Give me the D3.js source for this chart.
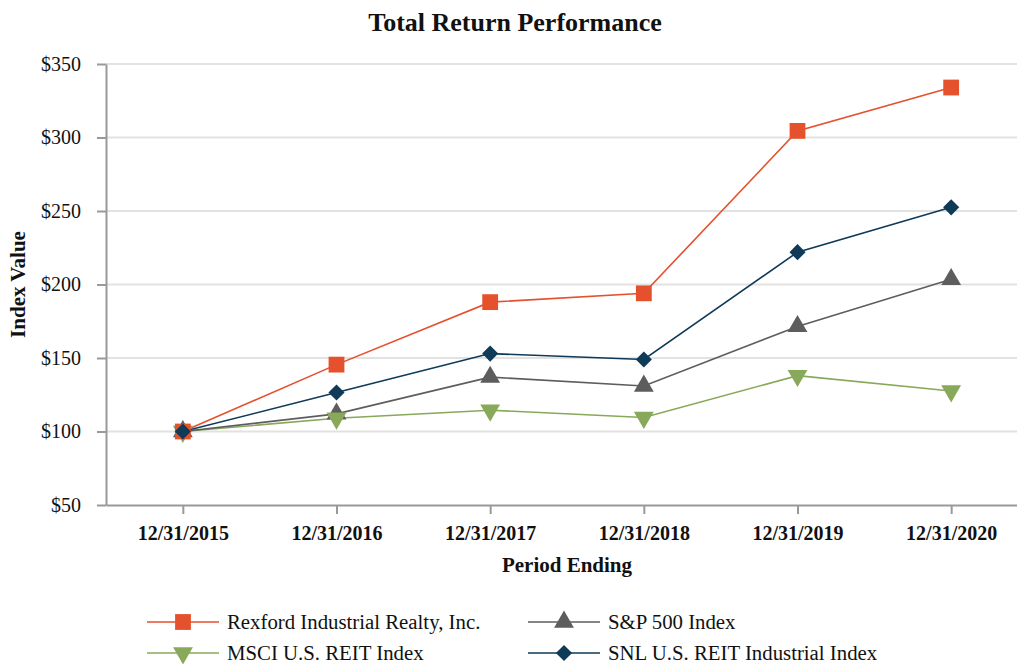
<!DOCTYPE html>
<html>
<head>
<meta charset="utf-8">
<style>
body { margin: 0; background: #fff; }
text { font-family: "Liberation Serif", "Times New Roman", serif; fill: #111; }
</style>
</head>
<body>
<script src="https://d3js.org/d3.v7.min.js"></script>
<script>

var width = 1017,
    height = 664;

var periods = ["12/31/2015", "12/31/2016", "12/31/2017", "12/31/2018", "12/31/2019", "12/31/2020"];
var rexford = [100, 145.5, 188, 194, 304.5, 334];
var sp500 = [100, 112, 137, 131, 171.5, 203.5];
var msci = [100, 109, 114.5, 109.5, 138, 127.5];
var snl = [100, 126.5, 153, 149, 222, 252.5];
var yTicks = [50, 100, 150, 200, 250, 300, 350];

var series = [
  { name: "Rexford Industrial Realty, Inc.", values: rexford, color: "#e5502d", symbol: d3.symbolSquare, size: 250, rot: 0 },
  { name: "S&P 500 Index", values: sp500, color: "#5d5d5d", symbol: d3.symbolTriangle, size: 170, rot: 0 },
  { name: "MSCI U.S. REIT Index", values: msci, color: "#88a85a", symbol: d3.symbolTriangle, size: 170, rot: 180 },
  { name: "SNL U.S. REIT Industrial Index", values: snl, color: "#0f3a58", symbol: d3.symbolSquare, size: 130, rot: 45 }
];

var margin = { left: 106, right: -11, top: 64, bottom: 159 };
var plotW = width - margin.left - margin.right,
    plotH = height - margin.top - margin.bottom;

var x = d3.scalePoint()
    .domain(periods)
    .range([0, plotW])
    .padding(0.5);

var y = d3.scaleLinear()
    .domain([50, 350])
    .range([plotH, 0]);

var svg = d3.select("body").append("svg")
    .attr("width", width)
    .attr("height", height);

svg.append("text")
    .attr("x", 515)
    .attr("y", 31)
    .attr("text-anchor", "middle")
    .style("font-size", "26px")
    .style("font-weight", "bold")
    .text("Total Return Performance");

var g = svg.append("g")
    .attr("transform", "translate(" + margin.left + "," + margin.top + ")");

// gridlines
g.selectAll("line.grid")
    .data(yTicks.slice(1))
    .enter().append("line")
    .attr("class", "grid")
    .attr("x1", 0)
    .attr("x2", plotW)
    .attr("y1", d => y(d))
    .attr("y2", d => y(d))
    .style("stroke", "#e2e2e2")
    .style("stroke-width", 2);

var yAxis = g.append("g")
    .call(d3.axisLeft(y).tickValues(yTicks).tickFormat(d => "$" + d).tickSize(9).tickSizeOuter(0).tickPadding(16));

var xAxis = g.append("g")
    .attr("transform", "translate(0," + plotH + ")")
    .call(d3.axisBottom(x).tickSize(9).tickSizeOuter(0).tickPadding(12));

[yAxis, xAxis].forEach(function(a) {
  a.select(".domain").style("stroke", "#999").style("stroke-width", 2);
  a.selectAll(".tick line").style("stroke", "#999").style("stroke-width", 2);
  a.selectAll("text").style("font-family", "'Liberation Serif', serif").style("fill", "#111");
});
yAxis.selectAll("text").style("font-size", "20px");
xAxis.selectAll("text").style("font-size", "20px").style("font-weight", "bold");

svg.append("text")
    .attr("transform", "translate(25," + (margin.top + plotH / 2) + ") rotate(-90)")
    .attr("text-anchor", "middle")
    .style("font-size", "21px")
    .style("font-weight", "bold")
    .text("Index Value");

svg.append("text")
    .attr("x", 567)
    .attr("y", 572)
    .attr("text-anchor", "middle")
    .style("font-size", "21px")
    .style("font-weight", "bold")
    .text("Period Ending");

var line = d3.line()
    .x((d, i) => x(periods[i]))
    .y(d => y(d));

// draw order: msci, s&p, snl, rexford on top at start point
var drawOrder = [series[2], series[1], series[3], series[0]];

drawOrder.forEach(function(s) {
  g.append("path")
    .datum(s.values)
    .attr("d", line)
    .style("fill", "none")
    .style("stroke", s.color)
    .style("stroke-width", 1.6);
});

var sym = function(s) { return d3.symbol().type(s.symbol).size(s.size)(); };

[series[1], series[2], series[0], series[3]].forEach(function(s) {
  g.selectAll(null)
    .data(s.values)
    .enter().append("path")
    .attr("d", sym(s))
    .attr("transform", (d, i) => "translate(" + x(periods[i]) + "," + y(d) + ") rotate(" + s.rot + ")")
    .style("fill", s.color);
});

// legend
var legendPos = [[147, 622], [528, 622], [147, 653], [528, 653]];
series.forEach(function(s, i) {
  var lg = svg.append("g")
    .attr("transform", "translate(" + legendPos[i][0] + "," + legendPos[i][1] + ")");
  lg.append("line")
    .attr("x1", 0).attr("x2", 72)
    .attr("y1", 0).attr("y2", 0)
    .style("stroke", s.color)
    .style("stroke-width", 1.6);
  lg.append("path")
    .attr("d", sym(s))
    .attr("transform", "translate(36,0) rotate(" + s.rot + ")")
    .style("fill", s.color);
  lg.append("text")
    .attr("x", 80)
    .attr("y", 7)
    .style("font-size", "20.8px")
    .text(s.name);
});

</script>
</body>
</html>
